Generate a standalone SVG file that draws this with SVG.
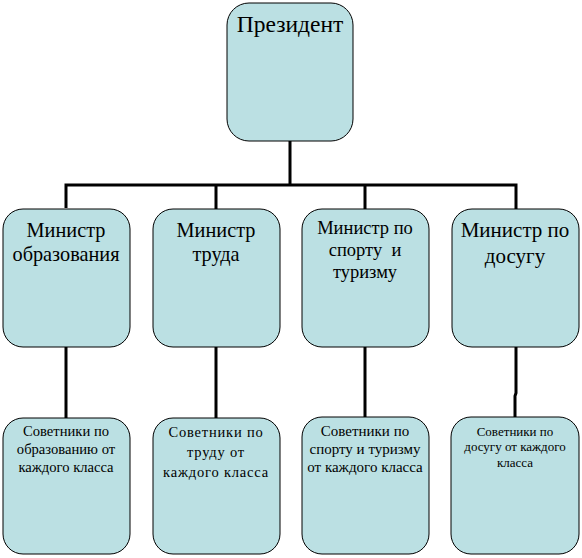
<svg xmlns="http://www.w3.org/2000/svg" width="582" height="558" viewBox="0 0 582 558">
<style>
.box{fill:#BBE0E3;stroke:#000;stroke-width:1}
.con{fill:none;stroke:#000;stroke-width:3}
text{font-family:'Liberation Serif',serif;fill:#000;text-anchor:middle}
.t1{font-size:23.5px}
.t2{font-size:20.3px}
.t3{font-size:18.5px}
.t2b{font-size:21px}
.t4{font-size:14.6px}
.t4b{font-size:14.5px;letter-spacing:0.8px}
.t4c{font-size:15px}
.t5{font-size:13px}
</style>
<rect width="582" height="558" fill="#fff"/>
<g id="connectors">
<path class="con" d="M290,141 V185 M66,208 V185 H516 V209 M216,185 V209 M365,185 V209"/>
<path class="con" d="M66,347 V418 M216,347 V418 M365,347 V417 M516,347 V393 L515,396 V417"/>
</g>
<g id="president">
<rect class="box" x="227" y="3" width="126" height="138" rx="22"/>
<text class="t1" x="290" y="32">Президент</text>
</g>
<g id="min1">
<rect class="box" x="3" y="209" width="127" height="138" rx="20"/>
<text class="t2" x="66" y="237">Министр</text>
<text class="t2" x="66" y="261">образования</text>
</g>
<g id="min2">
<rect class="box" x="153" y="209" width="127" height="138" rx="20"/>
<text class="t2" x="216" y="237">Министр</text>
<text class="t2" x="216" y="261">труда</text>
</g>
<g id="min3">
<rect class="box" x="302" y="209" width="127" height="138" rx="20"/>
<text class="t3" x="365" y="234">Министр по</text>
<text class="t3" x="365" y="256" xml:space="preserve">спорту  и</text>
<text class="t3" x="365" y="278">туризму</text>
</g>
<g id="min4">
<rect class="box" x="452" y="209" width="127" height="138" rx="20"/>
<text class="t2b" x="515" y="237">Министр по</text>
<text class="t2b" x="515" y="263">досугу</text>
</g>
<g id="adv1">
<rect class="box" x="3" y="418" width="127" height="136" rx="20"/>
<text class="t4" x="66" y="436">Советники по</text>
<text class="t4" x="66" y="454">образованию от</text>
<text class="t4" x="66" y="472">каждого класса</text>
</g>
<g id="adv2">
<rect class="box" x="153" y="418" width="127" height="136" rx="20"/>
<text class="t4b" x="216" y="437">Советники по</text>
<text class="t4b" x="216" y="457">труду от</text>
<text class="t4b" x="216" y="477">каждого класса</text>
</g>
<g id="adv3">
<rect class="box" x="302" y="417" width="127" height="137" rx="20"/>
<text class="t4c" x="365" y="436">Советники по</text>
<text class="t4c" x="365" y="454">спорту и туризму</text>
<text class="t4c" x="365" y="472">от каждого класса</text>
</g>
<g id="adv4">
<rect class="box" x="451" y="417" width="128" height="137" rx="20"/>
<text class="t5" x="515" y="436">Советники по</text>
<text class="t5" x="515" y="451">досугу от каждого</text>
<text class="t5" x="515" y="467">класса</text>
</g>
</svg>
